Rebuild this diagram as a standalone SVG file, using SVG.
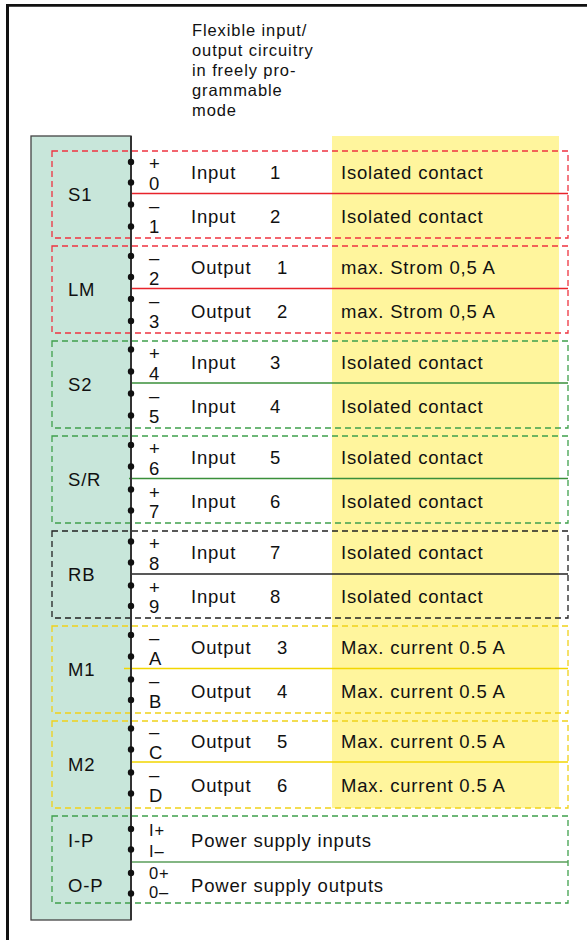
<svg xmlns="http://www.w3.org/2000/svg" width="587" height="940" viewBox="0 0 587 940">
<style>
text{font-family:"Liberation Sans",Arial,Helvetica,sans-serif;fill:#111;font-size:18.5px;letter-spacing:0.8px}
.hdr{font-size:16.5px;letter-spacing:0.9px}
.sm{font-size:16.5px}
.box{fill:none;stroke-width:1.3;stroke-dasharray:6 4}
.red{stroke:#ee3340}.grn{stroke:#3fa04c}.blk{stroke:#222}.yel{stroke:#f0d21a}
.sep{stroke-width:1.4}
.sred{stroke:#e8232b}.sgrn{stroke:#3a8f3a}.sblk{stroke:#222}.syel{stroke:#f2d600}
.dot{fill:#111}
</style>
<g id="frame">
<line x1="7.5" y1="5" x2="7.5" y2="940" stroke="#111" stroke-width="3"/>
<line x1="6" y1="5.3" x2="587" y2="5.3" stroke="#111" stroke-width="2.7"/>
</g>
<g id="header">
<text class="hdr" x="192" y="35.5">Flexible input/</text>
<text class="hdr" x="192" y="55.5">output circuitry</text>
<text class="hdr" x="192" y="75.5">in freely pro-</text>
<text class="hdr" x="192" y="95.5">grammable</text>
<text class="hdr" x="192" y="115.5">mode</text>
</g>
<rect id="highlight" x="332" y="136" width="227" height="672" fill="#fff59d"/>
<g id="module">
<rect x="31" y="136" width="100" height="784" fill="#c8e6da" stroke="#444" stroke-width="1.3"/>
</g>
<g id="S1">
<rect class="box red" x="52" y="151" width="516" height="87"/>
<text x="68" y="201">S1</text>
<text x="149" y="169.5">+</text><text x="149" y="189.5">0</text><text x="191" y="178.5">Input</text><text x="270" y="178.5">1</text><text x="341" y="178.5">Isolated contact</text>
<text x="149" y="211.5">–</text><text x="149" y="232.5">1</text><text x="191" y="222.5">Input</text><text x="270" y="222.5">2</text><text x="341" y="222.5">Isolated contact</text>
</g>
<g id="LM">
<rect class="box red" x="52" y="246" width="516" height="87"/>
<text x="68" y="296">LM</text>
<text x="149" y="263.5">–</text><text x="149" y="284.5">2</text><text x="191" y="273.5">Output</text><text x="277" y="273.5">1</text><text x="341" y="273.5">max. Strom 0,5 A</text>
<text x="149" y="306.5">–</text><text x="149" y="327.5">3</text><text x="191" y="317.5">Output</text><text x="277" y="317.5">2</text><text x="341" y="317.5">max. Strom 0,5 A</text>
</g>
<g id="S2">
<rect class="box grn" x="52" y="341" width="516" height="87"/>
<text x="68" y="391">S2</text>
<text x="149" y="359.5">+</text><text x="149" y="379.5">4</text><text x="191" y="368.5">Input</text><text x="270" y="368.5">3</text><text x="341" y="368.5">Isolated contact</text>
<text x="149" y="401.5">–</text><text x="149" y="422.5">5</text><text x="191" y="412.5">Input</text><text x="270" y="412.5">4</text><text x="341" y="412.5">Isolated contact</text>
</g>
<g id="SR">
<rect class="box grn" x="52" y="436" width="516" height="87"/>
<text x="68" y="486">S/R</text>
<text x="149" y="454.5">+</text><text x="149" y="474.5">6</text><text x="191" y="463.5">Input</text><text x="270" y="463.5">5</text><text x="341" y="463.5">Isolated contact</text>
<text x="149" y="498.5">+</text><text x="149" y="517.5">7</text><text x="191" y="507.5">Input</text><text x="270" y="507.5">6</text><text x="341" y="507.5">Isolated contact</text>
</g>
<g id="RB">
<rect class="box blk" x="52" y="531" width="516" height="87"/>
<text x="68" y="581">RB</text>
<text x="149" y="549.5">+</text><text x="149" y="569.5">8</text><text x="191" y="558.5">Input</text><text x="270" y="558.5">7</text><text x="341" y="558.5">Isolated contact</text>
<text x="149" y="593.5">+</text><text x="149" y="612.5">9</text><text x="191" y="602.5">Input</text><text x="270" y="602.5">8</text><text x="341" y="602.5">Isolated contact</text>
</g>
<g id="M1">
<rect class="box yel" x="52" y="626" width="516" height="87"/>
<text x="68" y="676">M1</text>
<text x="149" y="643.5">–</text><text x="149" y="664.5">A</text><text x="191" y="653.5">Output</text><text x="277" y="653.5">3</text><text x="341" y="653.5">Max. current 0.5 A</text>
<text x="149" y="686.5">–</text><text x="149" y="707.5">B</text><text x="191" y="697.5">Output</text><text x="277" y="697.5">4</text><text x="341" y="697.5">Max. current 0.5 A</text>
</g>
<g id="M2">
<rect class="box yel" x="52" y="721" width="516" height="87"/>
<text x="68" y="771">M2</text>
<text x="149" y="737.5">–</text><text x="149" y="758.5">C</text><text x="191" y="747.5">Output</text><text x="277" y="747.5">5</text><text x="341" y="747.5">Max. current 0.5 A</text>
<text x="149" y="780.5">–</text><text x="149" y="801.5">D</text><text x="191" y="791.5">Output</text><text x="277" y="791.5">6</text><text x="341" y="791.5">Max. current 0.5 A</text>
</g>
<g id="Power">
<rect class="box grn" x="52" y="816" width="516" height="87"/>
<text x="68" y="846.5">I-P</text>
<text x="68" y="891.5">O-P</text>
<text class="sm" x="149" y="836">I+</text><text class="sm" x="149" y="857">I–</text>
<text class="sm" x="149" y="879">0+</text><text class="sm" x="149" y="898">0–</text>
<text x="191" y="846.5">Power supply inputs</text>
<text x="191" y="891.5">Power supply outputs</text>
</g>
<g id="connectors">
<line class="sep sred" x1="131" y1="193.5" x2="568" y2="193.5"/>
<line class="sep sred" x1="131" y1="288.5" x2="568" y2="288.5"/>
<line class="sep sgrn" x1="131" y1="383" x2="568" y2="383"/>
<line class="sep sgrn" x1="129" y1="478.5" x2="568" y2="478.5"/>
<line class="sep sblk" x1="131" y1="574" x2="568" y2="574"/>
<line class="sep syel" x1="124" y1="668.5" x2="568" y2="668.5"/>
<line class="sep syel" x1="131" y1="762" x2="568" y2="762"/>
<line class="sep" x1="131" y1="862" x2="568" y2="862" stroke="#5a9e5a"/>
<line x1="131" y1="136" x2="131" y2="920" stroke="#333" stroke-width="2"/>
<g class="dot">
<circle cx="131" cy="162" r="3.2"/><circle cx="131" cy="182.5" r="3.2"/><circle cx="131" cy="204.5" r="3.2"/><circle cx="131" cy="226.5" r="3.2"/>
<circle cx="131" cy="256" r="3.2"/><circle cx="131" cy="277" r="3.2"/><circle cx="131" cy="299" r="3.2"/><circle cx="131" cy="321" r="3.2"/>
<circle cx="131" cy="349.5" r="3.2"/><circle cx="131" cy="371.5" r="3.2"/><circle cx="131" cy="393.5" r="3.2"/><circle cx="131" cy="415.5" r="3.2"/>
<circle cx="131" cy="445" r="3.2"/><circle cx="131" cy="466.5" r="3.2"/><circle cx="131" cy="489.5" r="3.2"/><circle cx="131" cy="510.5" r="3.2"/>
<circle cx="131" cy="541.5" r="3.2"/><circle cx="131" cy="562.5" r="3.2"/><circle cx="131" cy="585.5" r="3.2"/><circle cx="131" cy="606" r="3.2"/>
<circle cx="131" cy="635" r="3.2"/><circle cx="131" cy="656.5" r="3.2"/><circle cx="131" cy="679.5" r="3.2"/><circle cx="131" cy="700" r="3.2"/>
<circle cx="131" cy="728.5" r="3.2"/><circle cx="131" cy="749.5" r="3.2"/><circle cx="131" cy="772.5" r="3.2"/><circle cx="131" cy="793.5" r="3.2"/>
<circle cx="131" cy="829" r="3.2"/><circle cx="131" cy="849.5" r="3.2"/><circle cx="131" cy="873" r="3.2"/><circle cx="131" cy="893.5" r="3.2"/>
</g>
</g>
</svg>
